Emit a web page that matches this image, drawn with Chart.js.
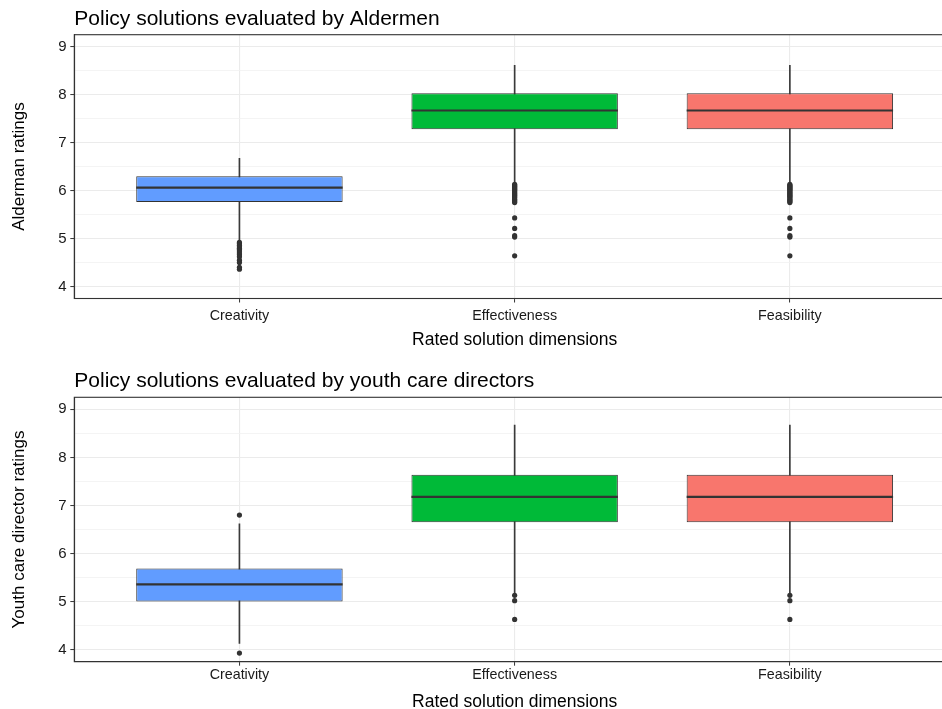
<!DOCTYPE html>
<html><head><meta charset="utf-8">
<script src="https://cdn.jsdelivr.net/npm/chart.js@4.4.1/dist/chart.umd.min.js"></script>
<style>
html,body{margin:0;padding:0;background:#fff;overflow:hidden;width:942px;height:709px;}
canvas{position:absolute;left:0;}
#c1{top:0;}
#c2{top:354px;}
</style></head><body>
<canvas id="c1" width="959" height="354"></canvas>
<canvas id="c2" width="959" height="362"></canvas>
<script>
// ---------- data ----------
const categories = ['Creativity', 'Effectiveness', 'Feasibility'];
const yTickValues = [4, 5, 6, 7, 8, 9];
const yRange = [3.75, 9.25];
const boxColors = ['#619CFF', '#00BA38', '#F8766D'];

// Panel 1: Aldermen
const alderQ1 = [5.76, 7.28, 7.28];
const alderMedian = [6.06, 7.67, 7.67];
const alderQ3 = [6.30, 8.03, 8.03];
const alderWhiskerLow = [4.95, 6.18, 6.18];
const alderWhiskerHigh = [6.67, 8.61, 8.61];
const alderOutCreativity = [4.92, 4.89, 4.86, 4.83, 4.80, 4.77, 4.74, 4.70, 4.66, 4.62, 4.55, 4.50, 4.40, 4.36];
const alderOutEffectiveness = [6.13, 6.11, 6.09, 6.07, 6.05, 6.03, 6.01, 5.99, 5.97, 5.95, 5.93, 5.91, 5.89, 5.87, 5.85, 5.82, 5.80, 5.77, 5.75, 5.43, 5.21, 5.06, 5.03, 4.64];
const alderOutFeasibility = [6.13, 6.11, 6.09, 6.07, 6.05, 6.03, 6.01, 5.99, 5.97, 5.95, 5.93, 5.91, 5.89, 5.87, 5.85, 5.82, 5.80, 5.77, 5.75, 5.43, 5.21, 5.06, 5.03, 4.64];

// Panel 2: youth care directors
const youthQ1 = [5.00, 6.65, 6.65];
const youthMedian = [5.36, 7.18, 7.18];
const youthQ3 = [5.69, 7.64, 7.64];
const youthWhiskerLow = [4.13, 5.17, 5.17];
const youthWhiskerHigh = [6.62, 8.67, 8.67];
const youthOutCreativity = [6.80, 3.93];
const youthOutEffectiveness = [5.13, 5.02, 4.63];
const youthOutFeasibility = [5.13, 5.02, 4.63];

// ---------- drawing ----------
const FONT = '"Liberation Sans", Arial, Helvetica, sans-serif';
const GRID_MAJOR = '#EBEBEB';
const GRID_MINOR = '#F1F1F1';
const DARK = '#333333';

const boxExtras = {
  id: 'boxExtras',
  afterDatasetsDraw(chart, args, opts) {
    const ctx = chart.ctx;
    const ys = chart.scales.y;
    const meta = chart.getDatasetMeta(1);
    ctx.save();
    ctx.strokeStyle = DARK;
    ctx.lineWidth = 2.2;
    meta.data.forEach((bar, i) => {
      const py = ys.getPixelForValue(opts.medians[i]);
      ctx.beginPath();
      ctx.moveTo(bar.x - bar.width / 2, py);
      ctx.lineTo(bar.x + bar.width / 2, py);
      ctx.stroke();
    });
    const a = chart.chartArea;
    ctx.lineWidth = 1.1;
    ctx.strokeRect(a.left, a.top, a.right - a.left, a.bottom - a.top);
    ctx.restore();
  }
};

function isMajor(v) { return yTickValues.includes(v); }

function makeChart(id, p) {
  const xs = categories.map((c, i) => i + 1);
  const outliers = p.out.flatMap((arr, i) => arr.map(v => ({x: i + 1, y: v})));
  const minorTicks = yTickValues.slice(0, -1).map(v => v + 0.5);
  const allTicks = yTickValues.concat(minorTicks).sort((a, b) => a - b);
  return new Chart(document.getElementById(id), {
    type: 'bar',
    data: {
      datasets: [
        {
          label: 'whisker',
          data: xs.map((x, i) => ({x: x, y: [p.wlo[i], p.whi[i]]})),
          backgroundColor: '#3a3a3a',
          barThickness: 1,
          grouped: false,
          order: 3
        },
        {
          label: 'box',
          data: xs.map((x, i) => ({x: x, y: [p.q1[i], p.q3[i]]})),
          backgroundColor: boxColors,
          borderColor: DARK,
          borderWidth: 1,
          borderSkipped: false,
          barPercentage: 0.75,
          categoryPercentage: 1,
          grouped: false,
          order: 2
        },
        {
          type: 'scatter',
          label: 'outliers',
          data: outliers,
          pointRadius: 2.6,
          pointBackgroundColor: DARK,
          pointBorderWidth: 0,
          order: 1
        }
      ]
    },
    options: {
      responsive: false,
      animation: false,
      devicePixelRatio: 1,
      layout: {padding: {left: 0, right: 0.7, top: 0, bottom: 0}},
      plugins: {
        legend: {display: false},
        tooltip: {enabled: false},
        title: {
          display: true,
          text: p.title,
          align: 'start',
          fullSize: false,
          color: '#000',
          font: {family: FONT, size: 21, weight: 'normal'},
          padding: {top: p.titlePadTop, bottom: p.titlePadBottom}
        },
        boxExtras: {medians: p.median}
      },
      scales: {
        x: {
          type: 'linear',
          min: 0.4,
          max: 3.6,
          offset: false,
          afterBuildTicks: (s) => { s.ticks = xs.map(v => ({value: v})); },
          afterFit: (s) => { s.height = p.xAxisHeight; },
          ticks: {
            callback: (v) => categories[v - 1],
            color: '#1a1a1a',
            font: {family: FONT, size: 14.3},
            padding: p.xTickPad,
            maxRotation: 0,
            autoSkip: false
          },
          grid: {
            offset: false,
            color: GRID_MAJOR,
            lineWidth: 1.1,
            tickColor: DARK,
            tickLength: 4,
            tickWidth: 1
          },
          border: {display: true, color: DARK, width: 1.1},
          title: {
            display: true,
            text: 'Rated solution dimensions',
            color: '#000',
            font: {family: FONT, size: 17.5},
            padding: {top: 0, bottom: p.xTitlePad}
          }
        },
        y: {
          type: 'linear',
          min: yRange[0],
          max: yRange[1],
          beginAtZero: false,
          afterBuildTicks: (s) => { s.ticks = allTicks.map(v => ({value: v})); },
          afterFit: (s) => { s.width = 74.3; },
          ticks: {
            callback: (v) => isMajor(v) ? String(v) : '',
            color: '#1a1a1a',
            font: {family: FONT, size: 15},
            padding: 3.6,
            autoSkip: false
          },
          grid: {
            color: (c) => isMajor(c.tick.value) ? GRID_MAJOR : GRID_MINOR,
            lineWidth: (c) => isMajor(c.tick.value) ? 1.1 : 0.8,
            tickColor: (c) => isMajor(c.tick.value) ? DARK : 'rgba(0,0,0,0)',
            tickLength: 4,
            tickWidth: 1
          },
          border: {display: true, color: DARK, width: 1.1},
          title: {
            display: true,
            text: p.yTitle,
            color: '#000',
            font: {family: FONT, size: 17},
            padding: {top: 8.8, bottom: 0}
          }
        }
      }
    },
    plugins: [boxExtras]
  });
}

makeChart('c1', {
  title: 'Policy solutions evaluated by Aldermen',
  yTitle: 'Alderman ratings',
  q1: alderQ1, median: alderMedian, q3: alderQ3,
  wlo: alderWhiskerLow, whi: alderWhiskerHigh,
  out: [alderOutCreativity, alderOutEffectiveness, alderOutFeasibility],
  titlePadTop: 7, titlePadBottom: 2.5,
  xAxisHeight: 55.5, xTickPad: 4.8, xTitlePad: 3.5
});

makeChart('c2', {
  title: 'Policy solutions evaluated by youth care directors',
  yTitle: 'Youth care director ratings',
  q1: youthQ1, median: youthMedian, q3: youthQ3,
  wlo: youthWhiskerLow, whi: youthWhiskerHigh,
  out: [youthOutCreativity, youthOutEffectiveness, youthOutFeasibility],
  titlePadTop: 14.5, titlePadBottom: 3.6,
  xAxisHeight: 54.3, xTickPad: 1.1, xTitlePad: 3.3
});
</script>
</body></html>
